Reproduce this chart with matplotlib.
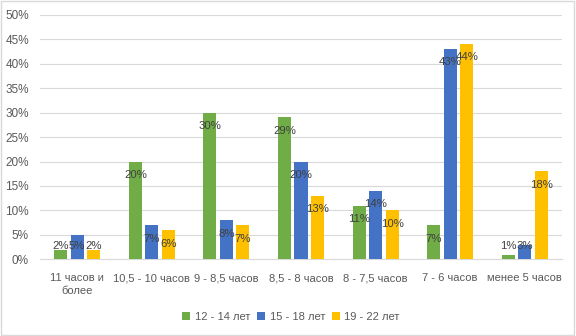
import matplotlib.pyplot as plt
import numpy as np
from matplotlib.patches import Rectangle

categories = ['11 часов и\nболее', '10,5 - 10 часов', '9 - 8,5 часов', '8,5 - 8 часов',
              '8 - 7,5 часов', '7 - 6 часов', 'менее 5 часов']
series_names = ['12 - 14 лет', '15 - 18 лет', '19 - 22 лет']
age_12_14 = [2, 20, 30, 29, 11, 7, 1]
age_15_18 = [5, 7, 8, 20, 14, 43, 3]
age_19_22 = [2, 6, 7, 13, 10, 44, 18]
colors = ['#70AD47', '#4472C4', '#FFC000']
yticks = [0, 5, 10, 15, 20, 25, 30, 35, 40, 45, 50]

plt.rcParams['font.family'] = ['Liberation Sans', 'DejaVu Sans']
txt = '#595959'

fig = plt.figure(figsize=(5.76, 3.36), dpi=100)
ax = fig.add_axes([0.0694, 0.2277, 0.9063, 0.7291])

x = np.arange(len(categories))
w = 0.175
step = 0.2215
for i, (vals, c, name) in enumerate(zip([age_12_14, age_15_18, age_19_22], colors, series_names)):
    pos = x + (i - 1) * step
    ax.bar(pos, vals, width=w, color=c, label=name, zorder=3)
    # Excel "inside end" labels, pushed up so they stay above the axis
    for px, v in zip(pos, vals):
        ly = max(v - 2.75, 2.75)
        ax.text(px, ly, f'{v}%', ha='center', va='center', fontsize=8.2, color='#404040', zorder=4)

ax.set_xlim(-0.5, len(categories) - 0.5)
ax.set_ylim(0, 50)
ax.set_yticks(yticks)
ax.set_yticklabels([f'{t}%' for t in yticks], fontsize=8.5, color=txt)
ax.set_xticks(x)
ax.set_xticklabels(categories, fontsize=8, color=txt, linespacing=1.35)
ax.tick_params(axis='both', length=0, pad=8)
ax.tick_params(axis='x', pad=10)
ax.grid(axis='y', color='#D9D9D9', linewidth=0.8, zorder=0)
for s in ['top', 'right', 'left']:
    ax.spines[s].set_visible(False)
ax.spines['bottom'].set_color('#D9D9D9')

leg = fig.legend(loc='center', bbox_to_anchor=(0.505, 0.058), ncol=3, frameon=False,
                 fontsize=8, handlelength=0.75, handleheight=0.75, handletextpad=0.4,
                 columnspacing=0.6)
for t in leg.get_texts():
    t.set_color(txt)

fig.patches.append(Rectangle((0.002, 0.003), 0.995, 0.993, transform=fig.transFigure,
                             fill=False, edgecolor='#D9D9D9', linewidth=1))

fig.savefig('out.png', dpi=100)
